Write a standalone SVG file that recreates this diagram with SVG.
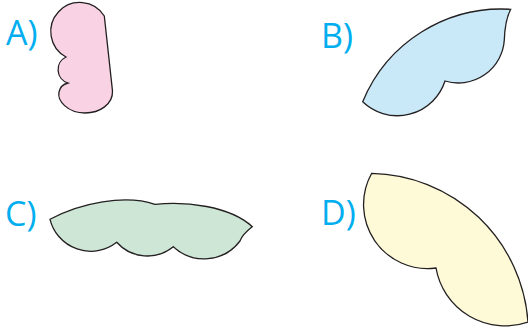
<svg xmlns="http://www.w3.org/2000/svg" width="528" height="329" viewBox="0 0 528 329">
<style>
.lbl{font-family:"Open Sans","DejaVu Sans",sans-serif;font-size:34px;fill:#00aeef}
.sh{stroke:#231f20;stroke-width:1.3;stroke-linejoin:miter}
</style>
<rect width="528" height="329" fill="#ffffff"/>
<g id="A">
<text class="lbl" x="6" y="45">A)</text>
<path class="sh" fill="#f9d3e3" d="M104.3,16 L112.5,91 C113,104 100,113 85,113 C68,113 57,101 59,92 C60,87 64,84 68,83 A14,14 0 0 1 66,57 A29,29 0 1 1 104.3,16 Z"/>
</g>
<g id="B">
<text class="lbl" x="321" y="48">B)</text>
<path class="sh" fill="#c9e9f8" d="M362.7,101.7 A150,150 0 0 1 510.7,9.3 Q505,20 504.3,40 A46,46 0 0 1 445,81 A50,50 0 0 1 362.7,101.7 Z"/>
</g>
<g id="C">
<text class="lbl" x="5" y="225.5">C)</text>
<path class="sh" fill="#cde6d5" d="M50,219.3 C80,203 125,194 155,204.3 C185,201 230,206 252.3,226.7 C247,231 242,235 240,241 A45,45 0 0 1 173.3,246.7 A41,41 0 0 1 116.7,242.3 A42,42 0 0 1 50,219.3 Z"/>
</g>
<g id="D">
<text class="lbl" x="321" y="225">D)</text>
<path class="sh" fill="#fef9d7" d="M371.7,173.3 A160,160 0 0 1 528,322 A70,70 0 0 1 436,268 A64,64 0 0 1 371.7,173.3 Z"/>
</g>
<g id="connectors"/>
</svg>
